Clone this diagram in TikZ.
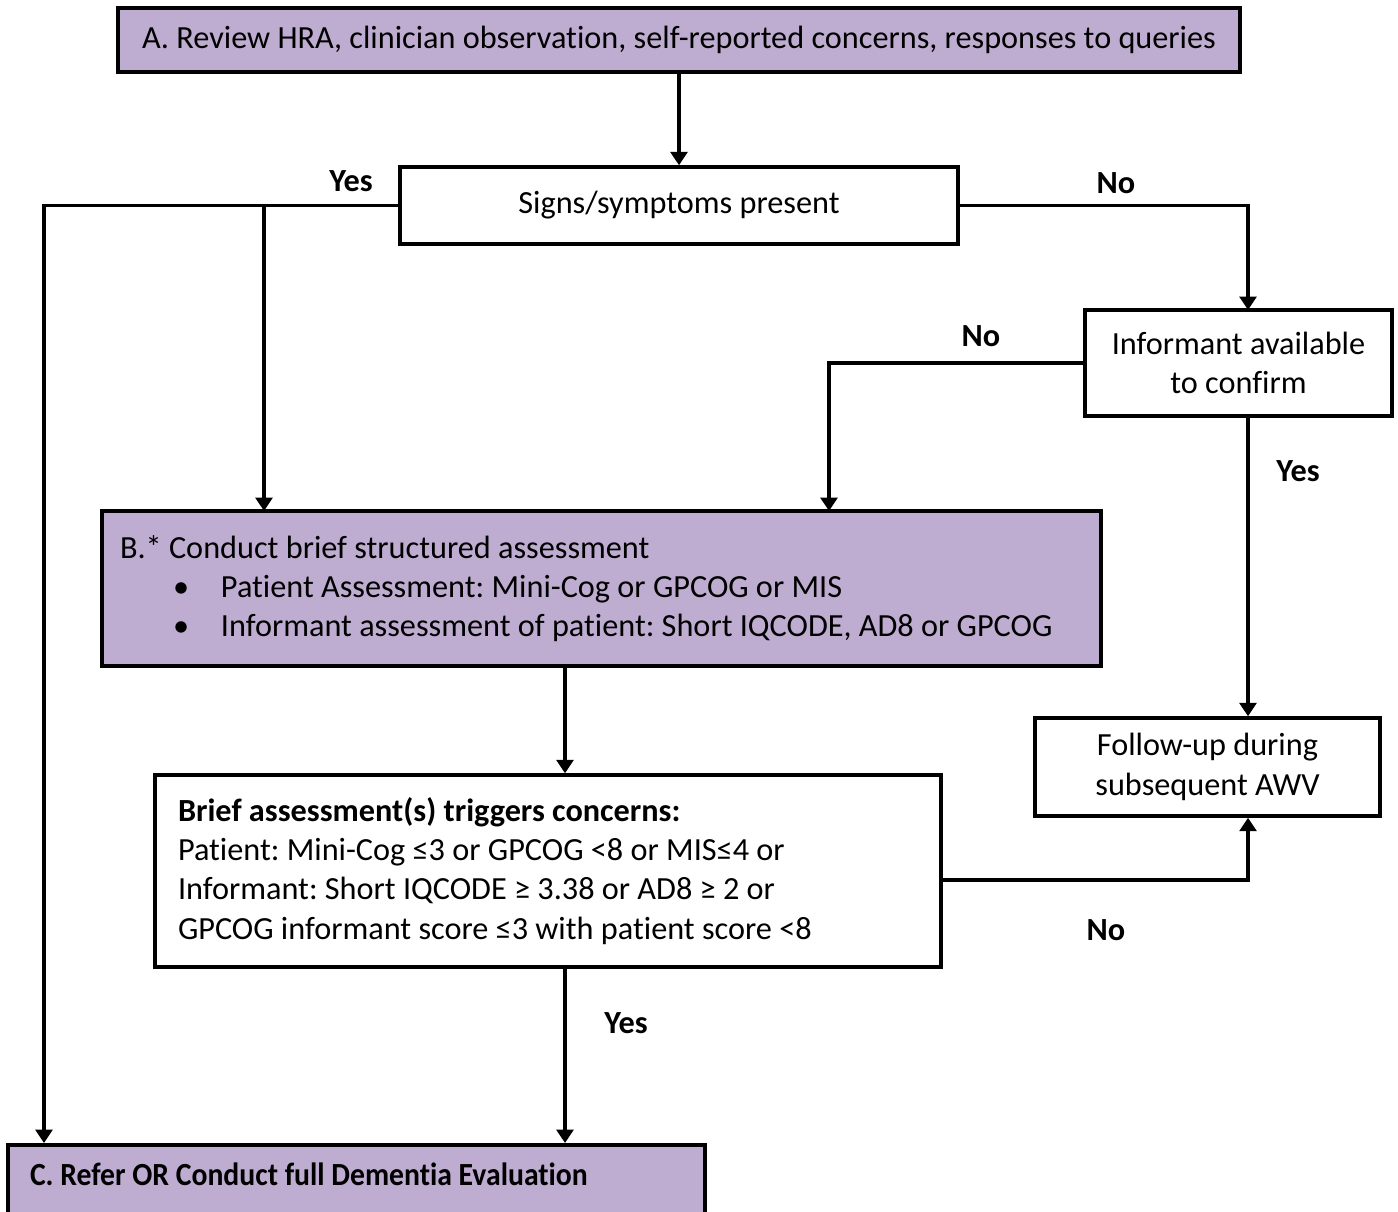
\documentclass[tikz,border=0pt]{standalone}
\usepackage{fontspec}
\usepackage{graphicx}
\setmainfont{Carlito}[Ligatures=NoCommon]
\usetikzlibrary{arrows.meta}
\definecolor{lilas}{RGB}{191,173,209}
\frenchspacing
\begin{document}
\begin{tikzpicture}[x=0.75pt, y=-0.75pt,
	boite/.style={draw, line width=2.6pt, fill=white, inner sep=0pt, font=\fontsize{24.2}{29.5}\selectfont},
	boitemauve/.style={boite, fill=lilas, line width=3pt},
	fleche/.style={line width=2.6pt, -{Triangle[width=12.5pt,length=10pt]}},
	etiq/.style={font=\fontsize{24.2}{28}\selectfont\bfseries}]
		\useasboundingbox (0,0) rectangle (1398,1211);
		
		\coordinate (gauche) at (44,1143);
		\coordinate (brancheB) at (264,511);
		\coordinate (droite) at (1248,310);
		\coordinate (retourB) at (829,511);
		\coordinate (axe) at (565,0);
		
		\node[boitemauve, minimum width=841.5pt, minimum height=48pt] (A) at (679,40) {A. Review HRA, clinician observation, self-reported concerns, responses to queries};
		\node[boite, minimum width=418.5pt, minimum height=57.75pt] (signes) at (679,205.5) {Signs/symptoms present};
		\node[boite, minimum width=230.25pt, minimum height=79.5pt, align=center] (informant) at (1238.5,363) {Informant available\\to confirm};
		\node[boitemauve, minimum width=749.25pt, minimum height=116.25pt, text width=722.25pt, align=flush left] (B) at (601.5,588.5) {B.* Conduct brief structured assessment\\
			\hspace*{39.75pt}\makebox[36pt][l]{•}Patient Assessment: Mini-Cog or GPCOG or MIS\\
			\hspace*{39.75pt}\makebox[36pt][l]{•}Informant assessment of patient: Short IQCODE, AD8 or GPCOG};
		\node[boite, minimum width=589.5pt, minimum height=144pt, text width=555pt, align=flush left] (bref) at (548,871) {\textbf{Brief assessment(s) triggers concerns:}\\
			Patient: Mini-Cog ≤3 or GPCOG <8 or MIS≤4 or\\
			Informant: Short IQCODE ≥ 3.38 or AD8 ≥ 2 or\\
			GPCOG informant score ≤3 with patient score <8\rule[-4pt]{0pt}{0pt}};
		\node[boite, minimum width=258.75pt, minimum height=73.5pt, align=center] (suivi) at (1207.5,767) {Follow-up during\\subsequent AWV};
		\node[boitemauve, anchor=north west, minimum width=522.75pt, text width=489.75pt, inner xsep=16.5pt, text height=30pt, text depth=36pt, align=flush left] (C) at (6,1143) {\scalebox{0.92}[1]{\textbf{C. Refer OR Conduct full Dementia Evaluation}}};
		
		\draw[fleche] (A) -- (signes);
		\draw[fleche] (signes.west) -| (gauche);
		\draw[fleche] (signes.west -| brancheB) -- (brancheB);
		\draw[fleche] (signes.east) -| (droite);
		\draw[fleche] (informant.west) -| (retourB);
		\draw[fleche] (informant.south -| droite) -- (suivi.north -| droite);
		\draw[fleche] (B.south -| axe) -- (bref.north -| axe);
		\draw[fleche] (bref.south -| axe) -- (C.north -| axe);
		\draw[fleche] ([yshift=-6.75pt]bref.east) -| (suivi.south -| droite);
		
		\node[etiq] (oui1) at (351,181) {Yes};
		\node[etiq] (non1) at (1116,183) {No};
		\node[etiq] (non2) at (981,336) {No};
		\node[etiq] (oui2) at (1298,471) {Yes};
		\node[etiq] (non3) at (1106,930) {No};
		\node[etiq] (oui3) at (626,1023) {Yes};
\end{tikzpicture}
\end{document}
